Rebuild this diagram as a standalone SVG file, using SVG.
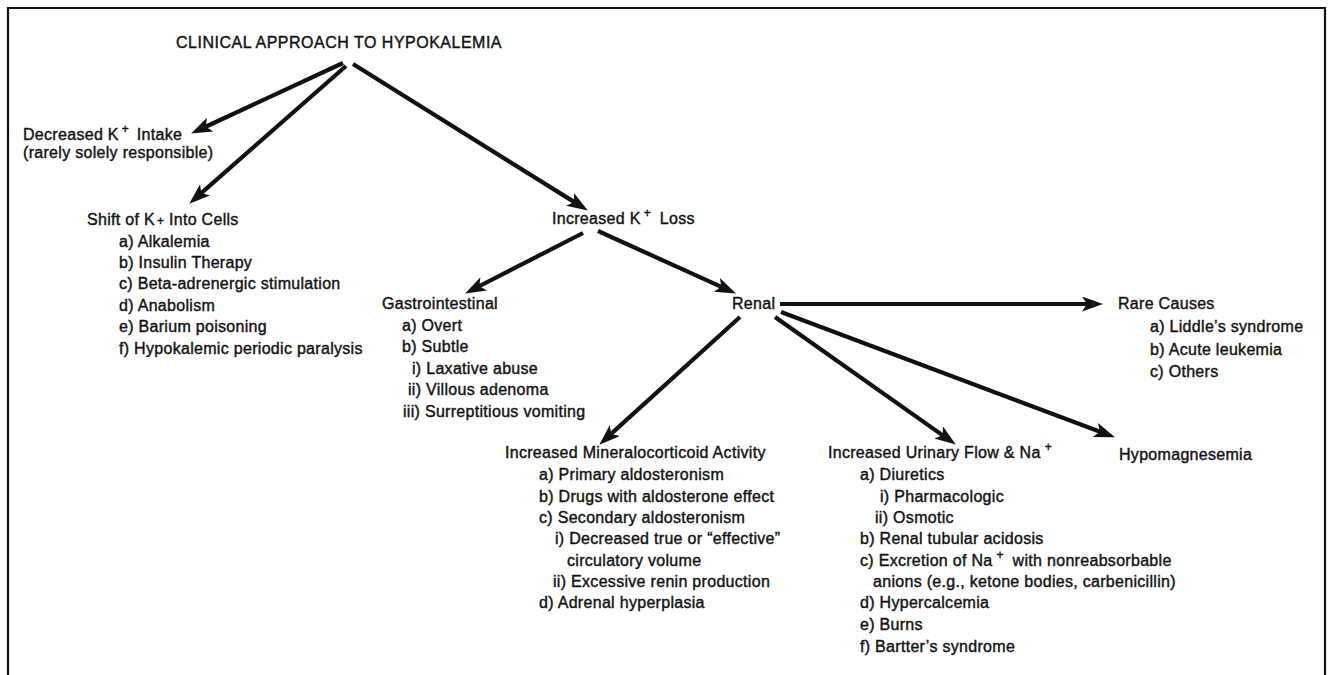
<svg xmlns="http://www.w3.org/2000/svg" width="1331" height="675" viewBox="0 0 1331 675">
<style>
text{font-family:"Liberation Sans",Arial,Helvetica,sans-serif;font-size:16px;fill:#111;stroke:#111;stroke-width:0.4px;letter-spacing:0.3px}
.title{letter-spacing:0.5px}
.sup{font-size:12px}
.frame{fill:none;stroke:#111;stroke-width:2.2}
.conn line{stroke:#111;stroke-width:4.2;fill:none;marker-end:url(#ah)}
</style>
<defs>
<marker id="ah" markerUnits="userSpaceOnUse" markerWidth="24" markerHeight="16" refX="8" refY="7.5" orient="auto">
<path d="M0,0 L21,7.5 L0,15 L5,7.5 Z" fill="#111"/>
</marker>
</defs>
<rect width="1331" height="675" fill="#fff"/>
<path class="frame" d="M8,676 L8,8 L1325,8 L1325,676"/>

<g id="title"><text class="title" x="176" y="48">CLINICAL APPROACH TO HYPOKALEMIA</text></g>

<g id="decreased">
<text x="23" y="140">Decreased K<tspan class="sup" dx="3" dy="-7">+</tspan><tspan dx="3" dy="7"> Intake</tspan></text>
<text x="23" y="158">(rarely solely responsible)</text>
</g>

<g id="shift">
<text x="87" y="225">Shift of K<tspan class="sup" dx="2">+</tspan>  Into Cells</text>
<text x="119" y="247">a) Alkalemia</text>
<text x="119" y="268">b) Insulin Therapy</text>
<text x="119" y="289">c) Beta-adrenergic stimulation</text>
<text x="119" y="311">d) Anabolism</text>
<text x="119" y="332">e) Barium poisoning</text>
<text x="119" y="354">f) Hypokalemic periodic paralysis</text>
</g>

<g id="loss">
<text x="552" y="224">Increased K<tspan class="sup" dx="3" dy="-7">+</tspan><tspan dx="4" dy="7"> Loss</tspan></text>
</g>

<g id="gi">
<text x="382" y="309">Gastrointestinal</text>
<text x="402" y="331">a) Overt</text>
<text x="402" y="352">b) Subtle</text>
<text x="412" y="374">i) Laxative abuse</text>
<text x="408" y="395">ii) Villous adenoma</text>
<text x="403" y="417">iii) Surreptitious vomiting</text>
</g>

<g id="renal"><text x="732" y="309">Renal</text></g>

<g id="rare">
<text x="1118" y="309">Rare Causes</text>
<text x="1150" y="332">a) Liddle’s syndrome</text>
<text x="1150" y="355">b) Acute leukemia</text>
<text x="1150" y="377">c) Others</text>
</g>

<g id="mineralo">
<text x="505" y="458">Increased Mineralocorticoid Activity</text>
<text x="539" y="480">a) Primary aldosteronism</text>
<text x="539" y="502">b) Drugs with aldosterone effect</text>
<text x="539" y="523">c) Secondary aldosteronism</text>
<text x="555" y="544">i) Decreased true or “effective”</text>
<text x="567" y="566">circulatory volume</text>
<text x="553" y="587">ii) Excessive renin production</text>
<text x="539" y="608">d) Adrenal hyperplasia</text>
</g>

<g id="urinary">
<text x="828" y="458">Increased Urinary Flow &amp; Na<tspan class="sup" dx="4" dy="-7">+</tspan></text>
<text x="860" y="480">a) Diuretics</text>
<text x="880" y="502">i) Pharmacologic</text>
<text x="875" y="523">ii) Osmotic</text>
<text x="860" y="544">b) Renal tubular acidosis</text>
<text x="860" y="566">c) Excretion of Na<tspan class="sup" dx="4" dy="-7">+</tspan><tspan dx="4" dy="7"> with nonreabsorbable</tspan></text>
<text x="873" y="587">anions (e.g., ketone bodies, carbenicillin)</text>
<text x="860" y="608">d) Hypercalcemia</text>
<text x="860" y="630">e) Burns</text>
<text x="860" y="652">f) Bartter’s syndrome</text>
</g>

<g id="hypomag"><text x="1119" y="460">Hypomagnesemia</text></g>

<g id="connectors" class="conn">
<line x1="343" y1="63" x2="202.9" y2="128"/>
<line x1="346" y1="66" x2="199" y2="195.1"/>
<line x1="353" y1="64" x2="576.8" y2="203.6"/>
<line x1="583" y1="233" x2="476.7" y2="287.5"/>
<line x1="598" y1="231" x2="724.1" y2="288.1"/>
<line x1="780" y1="304" x2="1090" y2="304"/>
<line x1="740" y1="317" x2="608.9" y2="435.9"/>
<line x1="775" y1="317" x2="945.2" y2="437.1"/>
<line x1="781" y1="312" x2="1102.8" y2="432.8"/>
</g>
</svg>
